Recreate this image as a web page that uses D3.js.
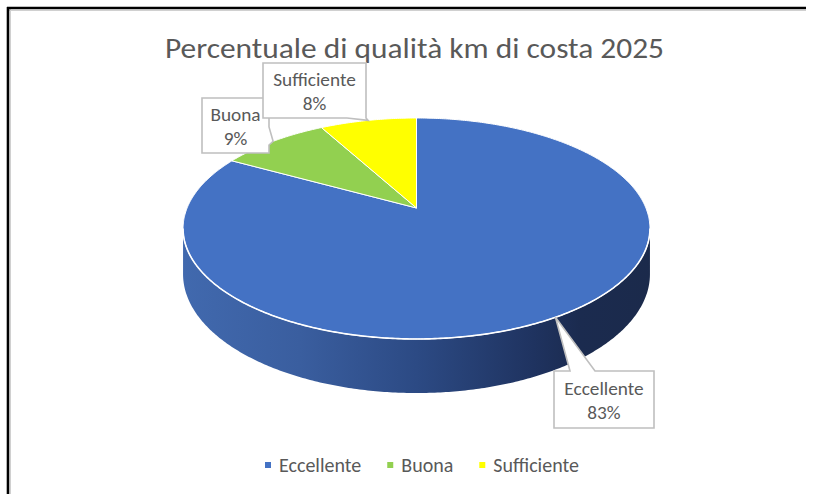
<!DOCTYPE html>
<html>
<head>
<meta charset="utf-8">
<script src="https://cdn.jsdelivr.net/npm/d3@7"></script>
<style>
  html, body { margin: 0; padding: 0; background: #fff; }
  svg { display: block; }
  text { font-family: Carlito, Calibri, Lato, "Open Sans", sans-serif; fill: #595959; }
</style>
</head>
<body>
<svg id="chart" width="814" height="494"></svg>
<script>
// Chart content
const titleText = "Percentuale di qualità km di costa 2025";
const categories = ["Eccellente", "Buona", "Sufficiente"];
const values = [83, 9, 8];
const colors = ["#4472C4", "#92D050", "#FFFF00"];

const W = 814, H = 494;
const svg = d3.select("#chart");

svg.append("rect").attr("width", W).attr("height", H).attr("fill", "#fff");

// Frame lines (top and left)
svg.append("line").attr("x1", 7).attr("x2", 806).attr("y1", 10.5).attr("y2", 10.5)
  .attr("stroke", "#d0d0d0").attr("stroke-width", 1);
svg.append("line").attr("x1", 10.5).attr("x2", 10.5).attr("y1", 7).attr("y2", H)
  .attr("stroke", "#d0d0d0").attr("stroke-width", 1);
svg.append("line").attr("x1", 7).attr("x2", 806).attr("y1", 8).attr("y2", 8)
  .attr("stroke", "#000").attr("stroke-width", 2.6);
svg.append("line").attr("x1", 8).attr("x2", 8).attr("y1", 7).attr("y2", H)
  .attr("stroke", "#000").attr("stroke-width", 2.6);

// Title
svg.append("text")
  .attr("x", 414.5).attr("y", 58)
  .attr("text-anchor", "middle")
  .attr("font-size", 29)
  .attr("font-weight", 300)
  .attr("textLength", 499).attr("lengthAdjust", "spacingAndGlyphs")
  .text(titleText);

// Perspective projection of the pie disk.
// theta measured clockwise from the far (top) point; d = drop below the top face.
const cx = 416.5, cy = 208, A = 229.4, B = 106.7, k = 0.1855, depth = 44;
function proj(theta, d) {
  const u = Math.sin(theta), v = Math.cos(theta), w = 1 + k * v;
  return [cx + A * u / w, cy - B * v / w + d / w];
}

const color = d3.scaleOrdinal().domain(categories).range(colors);
const pie = d3.pie().sort(null).startAngle(0).endAngle(2 * Math.PI);
const arcs = pie(values).map((a, i) => ({ ...a, cat: categories[i] }));

function samples(a0, a1, step = 0.01) {
  const n = Math.max(2, Math.ceil((a1 - a0) / step));
  return d3.range(n + 1).map(i => a0 + (a1 - a0) * i / n);
}
const line = d3.line();

// Gradient for the front wall
const defs = svg.append("defs");
const grad = defs.append("linearGradient").attr("id", "wallGrad")
  .attr("gradientUnits", "userSpaceOnUse")
  .attr("x1", 183).attr("x2", 650).attr("y1", 0).attr("y2", 0);
[[0, "#4169ae"], [0.25, "#3a5e9f"], [0.5, "#2c4a84"], [0.75, "#1f3360"], [0.85, "#1b2b4f"], [1, "#1b2a4b"]]
  .forEach(([o, c]) => grad.append("stop").attr("offset", o).attr("stop-color", c));

// Visible part of the outer wall lies between the two silhouette angles
const silR = Math.acos(-k), silL = 2 * Math.PI - silR;
arcs.forEach(a => {
  const s = Math.max(a.startAngle, silR), e = Math.min(a.endAngle, silL);
  if (e <= s) return;
  const ts = samples(s, e);
  const pts = ts.map(t => proj(t, 0)).concat(ts.slice().reverse().map(t => proj(t, depth)));
  svg.append("path")
    .attr("d", line(pts) + "Z")
    .attr("fill", a.cat === categories[0] ? "url(#wallGrad)" : d3.color(color(a.cat)).darker(1.2))
    .attr("stroke", "none");
});

// Top face slices
arcs.forEach(a => {
  const pts = [[cx, cy]].concat(samples(a.startAngle, a.endAngle).map(t => proj(t, 0)));
  svg.append("path")
    .attr("d", line(pts) + "Z")
    .attr("fill", color(a.cat))
    .attr("stroke", "#fff")
    .attr("stroke-width", 1)
    .attr("stroke-linejoin", "round");
});

// Highlight along the front rim
svg.append("path")
  .attr("d", line(samples(silR, silL).map(t => proj(t, 0))))
  .attr("fill", "none").attr("stroke", "#fff").attr("stroke-width", 1.6);

// Data label callouts
const callouts = {
  "Buona":       { x: 202, y: 98,  w: 67,  h: 55, side: "right",  p0: 127, p1: 145 },
  "Sufficiente": { x: 263, y: 63,  w: 103, h: 55, side: "bottom", p0: 347, p1: 366 },
  "Eccellente":  { x: 554, y: 371, w: 100, h: 57, side: "top",    p0: 570, p1: 595 }
};
const drawOrder = ["Eccellente", "Buona", "Sufficiente"];
drawOrder.forEach(cat => {
  const a = arcs.find(d => d.cat === cat);
  const b = callouts[cat];
  const mid = (a.startAngle + a.endAngle) / 2;
  const ap = proj(mid, 0);
  let pts;
  const { x, y, w, h } = b;
  if (b.side === "top") {
    pts = [[x, y], [b.p0, y], ap, [b.p1, y], [x + w, y], [x + w, y + h], [x, y + h]];
  } else if (b.side === "right") {
    pts = [[x, y], [x + w, y], [x + w, b.p0], ap, [x + w, b.p1], [x + w, y + h], [x, y + h]];
  } else {
    pts = [[x, y], [x + w, y], [x + w, y + h], ap, [b.p0, y + h], [x, y + h]];
  }
  const g = svg.append("g");
  g.append("path").attr("d", line(pts) + "Z")
    .attr("fill", "#fff").attr("stroke", "#bfbfbf").attr("stroke-width", 1.6)
    .attr("stroke-linejoin", "miter");
  const c = y + h / 2;
  // Two-line label: category name and percentage
  const t = g.append("text").attr("text-anchor", "middle").attr("font-size", 19.3);
  t.append("tspan").attr("x", x + w / 2).attr("y", c - 4.6).text(cat);
  t.append("tspan").attr("x", x + w / 2).attr("y", c + 19.4).text(a.data + "%");
});

// Legend
const legend = svg.append("g");
let lx = 265;
categories.forEach(cat => {
  legend.append("rect").attr("x", lx).attr("y", 462).attr("width", 6).attr("height", 6)
    .attr("fill", color(cat));
  const t = legend.append("text").attr("x", lx + 14).attr("y", 471.5)
    .attr("font-size", 20).text(cat);
  lx += 14 + t.node().getComputedTextLength() + 26;
});
</script>
</body>
</html>
